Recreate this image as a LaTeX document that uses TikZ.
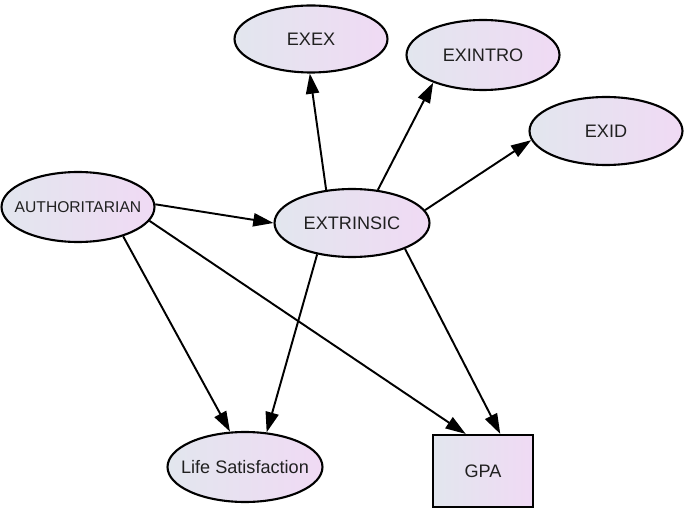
\documentclass[tikz,border=0pt]{standalone}
\usepackage{fontspec}
\setmainfont{Liberation Sans}
\usetikzlibrary{shapes.geometric,arrows.meta}
\definecolor{gleft}{HTML}{E2E6EE}
\definecolor{gright}{HTML}{F0DAF4}
\definecolor{txt}{HTML}{202020}
\tikzset{
  var/.style={shape=ellipse, draw=black, line width=1.2pt, left color=gleft, right color=gright,
    inner sep=0pt, minimum width=3.06cm, minimum height=1.38cm, text=txt, font=\fontsize{10.3}{12}\selectfont},
  obs/.style={shape=rectangle, draw=black, line width=1.2pt, left color=gleft, right color=gright,
    inner sep=0pt, minimum width=2.0cm, minimum height=1.44cm, text=txt, font=\fontsize{10.3}{12}\selectfont},
  path/.style={draw=black, line width=1.1pt, -{Triangle[length=11.5pt,width=7.5pt]}}
}
\begin{document}
\begin{tikzpicture}[x=0.02cm,y=-0.02cm]
\useasboundingbox (0,0) rectangle (685,509);
\node[var, minimum height=1.34cm] (exex) at (311,39) {\makebox[0pt]{EXEX}};
\node[var, minimum height=1.40cm] (exintro) at (483,55) {\makebox[0pt]{EXINTRO}};
\node[var, minimum height=1.36cm] (exid) at (606,131) {\makebox[0pt]{EXID}};
\node[var, minimum height=1.40cm, font=\fontsize{8.9}{10}\selectfont] (auth) at (78,207) {\makebox[0pt]{AUTHORITARIAN}};
\node[var, minimum width=3.10cm, minimum height=1.36cm] (ext) at (352,223) {\makebox[0pt]{EXTRINSIC}};
\node[var, minimum width=3.10cm, minimum height=1.40cm] (ls) at (245,467) {\makebox[0pt]{Life Satisfaction}};
\node[obs] (gpa) at (483,471) {GPA};

\draw[path] (ext.128) -- (exex.268);
\draw[path] (ext.52) -- (exintro.209);
\draw[path] (ext.10) -- (exid.187);
\draw[path] (auth.2) -- (ext.180);
\draw[path] (auth.327) -- (ls.113);
\draw[path] (auth.349) -- (gpa.115);
\draw[path] (ext.222) -- (ls.58);
\draw[path] (ext.334) -- (gpa.65);
\end{tikzpicture}
\end{document}
